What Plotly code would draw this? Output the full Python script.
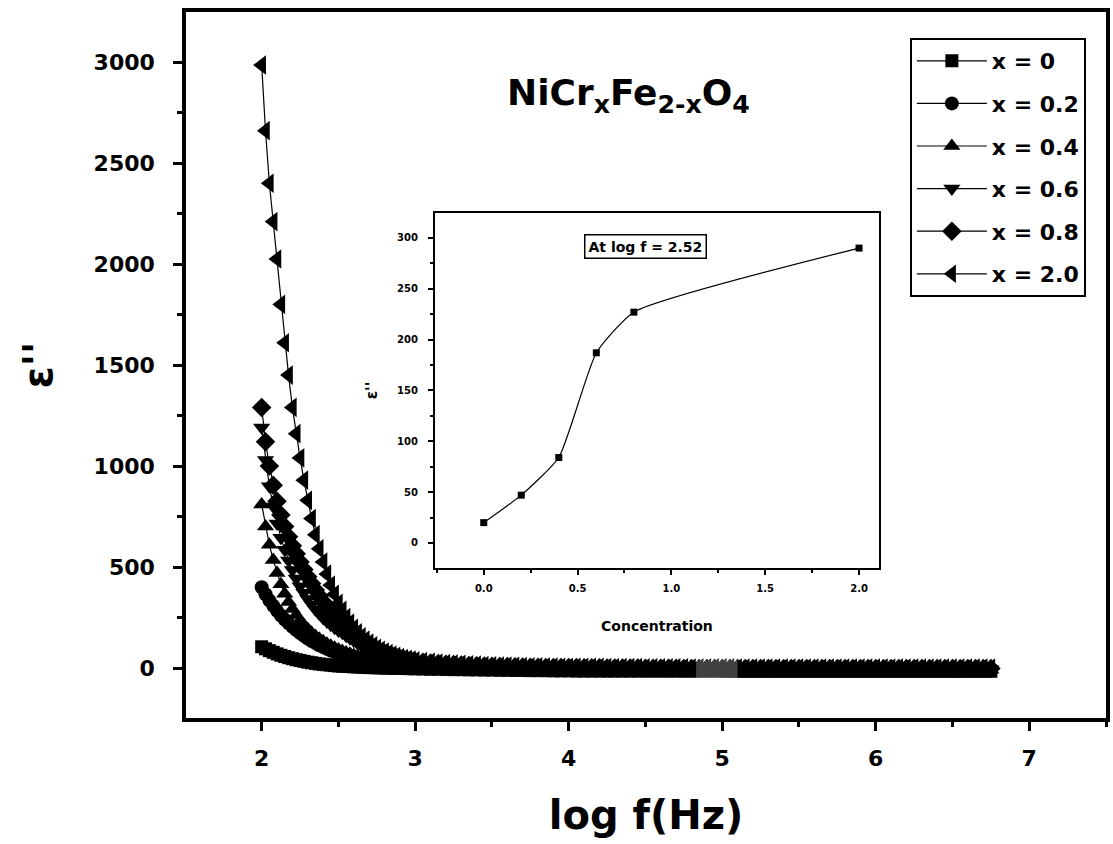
import plotly.graph_objects as go

# log f (Hz) sweep used for every composition
LOG_F = [
    2.000, 2.025, 2.050, 2.075, 2.100, 2.125, 2.150, 2.175, 2.200, 2.225,
    2.250, 2.275, 2.300, 2.325, 2.350, 2.375, 2.400, 2.425, 2.450, 2.475,
    2.500, 2.525, 2.550, 2.575, 2.600, 2.625, 2.650, 2.675, 2.700, 2.725,
    2.750, 2.775, 2.800, 2.825, 2.850, 2.875, 2.900, 2.925, 2.950, 2.975,
    3.000,
    3.05, 3.10, 3.15, 3.20, 3.25, 3.30, 3.35, 3.40, 3.45, 3.50,
    3.55, 3.60, 3.65, 3.70, 3.75, 3.80, 3.85, 3.90, 3.95, 4.00,
    4.05, 4.10, 4.15, 4.20, 4.25, 4.30, 4.35, 4.40, 4.45, 4.50,
    4.55, 4.60, 4.65, 4.70, 4.75, 4.80, 4.85, 4.90, 4.95, 5.00,
    5.05, 5.10, 5.15, 5.20, 5.25, 5.30, 5.35, 5.40, 5.45, 5.50,
    5.55, 5.60, 5.65, 5.70, 5.75, 5.80, 5.85, 5.90, 5.95, 6.00,
    6.05, 6.10, 6.15, 6.20, 6.25, 6.30, 6.35, 6.40, 6.45, 6.50,
    6.55, 6.60, 6.65, 6.70, 6.75,
]

# dielectric loss eps'' for each Cr content x
EPS_X00 = [
    105, 95, 86, 78, 70, 63, 57, 51, 46, 41, 37, 33, 29, 26, 23, 20, 18, 16, 14, 12,
    10, 9, 8, 7, 6, 5, 4, 3, 2, 2, 1, 1, 0, 0, -1, -1, -2, -2, -3, -3, -4,
    -5, -6, -6, -7, -8, -8, -9, -9, -10, -10, -11, -11, -12, -12, -13, -13, -13, -14, -14, -14,
    -15, -15, -15, -15, -15, -15, -15, -15, -15, -15, -15, -15, -15, -15, -15, -15, -15, -15, -15, -15,
    -16, -16, -16, -16, -16, -16, -16, -16, -16, -16, -16, -16, -16, -16, -16, -16, -16, -16, -16, -16,
    -16, -16, -16, -16, -16, -16, -16, -16, -16, -16, -16, -16, -16, -16, -16,
]
EPS_X02 = [
    400, 365, 335, 308, 283, 260, 240, 221, 204, 188, 173, 159, 146, 134, 123, 113, 104, 95, 87, 80,
    73, 67, 61, 56, 51, 47, 43, 39, 36, 33, 30, 27, 25, 23, 21, 19, 17, 16, 15, 14, 13,
    11, 10, 8, 7, 6, 5, 4, 3, 2, 1, 0, 0, -1, -2, -2, -3, -3, -4, -4, -5,
    -5, -6, -6, -7, -7, -8, -8, -8, -9, -9, -9, -10, -10, -10, -10, -11, -11, -11, -11, -11,
    -12, -12, -12, -12, -12, -12, -12, -12, -12, -12, -12, -12, -12, -12, -12, -12, -12, -12, -12, -12,
    -12, -12, -12, -12, -12, -12, -12, -12, -12, -12, -12, -12, -12, -12, -12,
]
EPS_X04 = [
    810, 700, 610, 535, 470, 415, 368, 327, 292, 262, 236, 213, 193, 175, 159, 145, 132, 120, 110, 100,
    91, 84, 77, 70, 64, 59, 54, 50, 46, 42, 39, 36, 33, 30, 28, 26, 24, 22, 20, 19, 18,
    16, 14, 12, 11, 10, 9, 8, 7, 6, 5, 4, 3, 2, 1, 1, 0, 0, -1, -1, -2,
    -2, -3, -3, -4, -4, -4, -5, -5, -5, -6, -6, -6, -7, -7, -7, -7, -8, -8, -8, -8,
    -8, -8, -8, -8, -8, -8, -8, -8, -8, -8, -8, -8, -8, -8, -8, -8, -8, -8, -8, -8,
    -9, -9, -9, -9, -9, -9, -9, -9, -9, -9, -9, -9, -9, -9, -9,
]
EPS_X06 = [
    1190, 1030, 900, 800, 715, 645, 585, 532, 485, 443, 405, 372, 342, 315, 290, 268, 248, 230, 214, 199,
    186, 174, 160, 147, 135, 123, 112, 102, 93, 84, 76, 69, 62, 56, 51, 46, 41, 37, 33, 30, 27,
    24, 21, 18, 16, 14, 12, 10, 9, 8, 7, 6, 5, 4, 3, 2, 2, 1, 1, 0, 0,
    0, -1, -1, -1, -2, -2, -2, -3, -3, -3, -3, -4, -4, -4, -4, -4, -5, -5, -5, -5,
    -5, -5, -5, -5, -5, -5, -5, -5, -5, -5, -5, -5, -5, -5, -5, -5, -5, -5, -5, -5,
    -6, -6, -6, -6, -6, -6, -6, -6, -6, -6, -6, -6, -6, -6, -6,
]
EPS_X08 = [
    1290, 1120, 1000, 905, 825, 758, 700, 650, 605, 565, 525, 488, 452, 418, 386, 356, 328, 302, 279, 258,
    239, 222, 203, 184, 165, 150, 136, 123, 111, 100, 90, 81, 73, 66, 59, 53, 48, 43, 39, 35, 32,
    28, 25, 22, 19, 17, 15, 13, 11, 10, 9, 8, 7, 6, 5, 4, 4, 3, 3, 2, 2,
    2, 1, 1, 1, 0, 0, 0, 0, 0, -1, -1, -1, -1, -1, -2, -2, -2, -2, -2, -2,
    -2, -2, -2, -2, -2, -2, -2, -2, -2, -2, -2, -2, -2, -2, -2, -2, -2, -2, -2, -2,
    -3, -3, -3, -3, -3, -3, -3, -3, -3, -3, -3, -3, -3, -3, -3,
]
EPS_X20 = [
    2985, 2660, 2400, 2210, 2025, 1800, 1610, 1450, 1290, 1160, 1040, 930, 830, 740, 660, 590, 525, 465, 410, 365,
    320, 285, 250, 222, 196, 174, 155, 138, 123, 110, 98, 88, 79, 71, 64, 58, 52, 47, 43, 39, 36,
    32, 28, 25, 22, 20, 18, 16, 14, 12, 11, 10, 9, 8, 7, 6, 6, 5, 5, 4, 4,
    3, 3, 3, 3, 2, 2, 2, 2, 2, 1, 1, 1, 1, 1, 1, 0, 0, 0, 0, 0,
    0, 0, 0, 0, 0, 0, 0, 0, 0, 0, 0, 0, 0, 0, 0, 0, 0, 0, 0, 0,
    0, 0, 0, 0, 0, 0, 0, 0, 0, 0, 0, 0, 0, 0, 0,
]

SERIES_NAMES = ["x = 0", "x = 0.2", "x = 0.4", "x = 0.6", "x = 0.8", "x = 2.0"]
SERIES_VALUES = [EPS_X00, EPS_X02, EPS_X04, EPS_X06, EPS_X08, EPS_X20]
SERIES_SYMBOLS = ["square", "circle", "triangle-up", "triangle-down", "diamond", "triangle-left"]
SERIES_SIZES = [13, 14, 15, 15, 15, 17]

# inset: eps'' at log f = 2.52 versus Cr concentration
CONCENTRATION = [0.0, 0.2, 0.4, 0.6, 0.8, 2.0]
EPS_AT_252 = [20, 47, 84, 187, 227, 290]

BOLD = "DejaVu Sans"

fig = go.Figure()

for i, (name, vals, sym, size) in enumerate(zip(SERIES_NAMES, SERIES_VALUES, SERIES_SYMBOLS, SERIES_SIZES)):
    fig.add_trace(go.Scatter(
        x=LOG_F, y=vals, name=name, mode="lines+markers",
        line=dict(color="black", width=1.2),
        marker=dict(symbol=sym, size=size, color="black", line=dict(width=0)),
        legendgroup=f"g{i}",
        xaxis="x", yaxis="y",
    ))

fig.add_trace(go.Scatter(
    x=CONCENTRATION, y=EPS_AT_252, mode="lines+markers", showlegend=False,
    line=dict(color="black", width=1.2, shape="spline", smoothing=0.5),
    marker=dict(symbol="square", size=7, color="black"),
    xaxis="x2", yaxis="y2",
))

main_axis = dict(
    showline=True, linecolor="black", linewidth=3.5, mirror=True,
    ticks="outside", ticklen=9, tickwidth=3, tickcolor="black",
    showgrid=False, zeroline=False,
    tickfont=dict(family=BOLD, size=22, color="black", weight="bold"),
)
inset_axis = dict(
    showline=True, linecolor="black", linewidth=2, mirror=True,
    ticks="outside", ticklen=5, tickwidth=1.5, tickcolor="black",
    showgrid=False, zeroline=False,
    tickfont=dict(family=BOLD, size=10, color="black", weight="bold"),
)

fig.update_layout(
    width=1113, height=844,
    margin=dict(l=186, r=3, t=12, b=126),
    paper_bgcolor="white", plot_bgcolor="white",
    showlegend=True,
    xaxis=dict(
        main_axis, range=[1.507, 7.5], domain=[0, 1], anchor="y",
        tick0=0, dtick=1, ticklabelstandoff=9,
        minor=dict(ticks="outside", ticklen=5, tickwidth=3, tickcolor="black", dtick=0.5),
        title=dict(text="log f(Hz)", font=dict(family=BOLD, size=40, color="black", weight="bold"), standoff=32),
    ),
    yaxis=dict(
        main_axis, range=[-247.5, 3247.5], domain=[0, 1], anchor="x",
        tick0=0, dtick=500, ticklabelstandoff=14,
        minor=dict(ticks="outside", ticklen=5, tickwidth=3, tickcolor="black", dtick=250),
        title=dict(text="ε''", font=dict(family=BOLD, size=40, color="black", weight="bold"), standoff=30),
    ),
    xaxis2=dict(
        inset_axis, range=[-0.26, 2.106], domain=[0.2706, 0.7532], anchor="y2",
        tick0=0, dtick=0.5, tickformat=".1f", ticklabelstandoff=5,
        minor=dict(ticks="outside", ticklen=3, tickwidth=1.5, tickcolor="black", dtick=0.25),
        title=dict(text="Concentration", font=dict(family=BOLD, size=14, color="black", weight="bold"), standoff=28),
    ),
    yaxis2=dict(
        inset_axis, range=[-24.6, 324.5], domain=[0.2125, 0.7153], anchor="x2",
        tick0=0, dtick=50, ticklabelstandoff=8,
        minor=dict(ticks="outside", ticklen=3, tickwidth=1.5, tickcolor="black", dtick=25),
        title=dict(text="ε''", font=dict(family=BOLD, size=15, color="black", weight="bold"), standoff=16),
    ),
    legend=dict(
        x=0.7868, y=0.9632, xanchor="left", yanchor="top",
        bgcolor="white", bordercolor="black", borderwidth=2,
        font=dict(family=BOLD, size=22, color="black", weight="bold"),
        itemwidth=70, tracegroupgap=11, itemsizing="trace",
    ),
    annotations=[
        dict(
            text="NiCr<sub>x</sub>Fe<sub>2-x</sub>O<sub>4</sub>",
            xref="paper", yref="paper", x=0.347, y=0.882, xanchor="left", yanchor="middle",
            showarrow=False, font=dict(family=BOLD, size=36, color="black", weight="bold"),
        ),
        dict(
            text="At log f = 2.52",
            xref="x2", yref="y2", x=0.86, y=292, xanchor="center", yanchor="middle",
            showarrow=False, bgcolor="white", bordercolor="black", borderwidth=1.5, borderpad=3,
            font=dict(family=BOLD, size=14, color="black", weight="bold"),
        ),
    ],
    shapes=[
        dict(
            type="rect", xref="x", yref="y", x0=4.83, x1=5.10, y0=-60, y1=40,
            fillcolor="rgba(255,255,255,0.25)", line=dict(width=0), layer="above",
        ),
    ],
)

fig.write_html("out.html")
